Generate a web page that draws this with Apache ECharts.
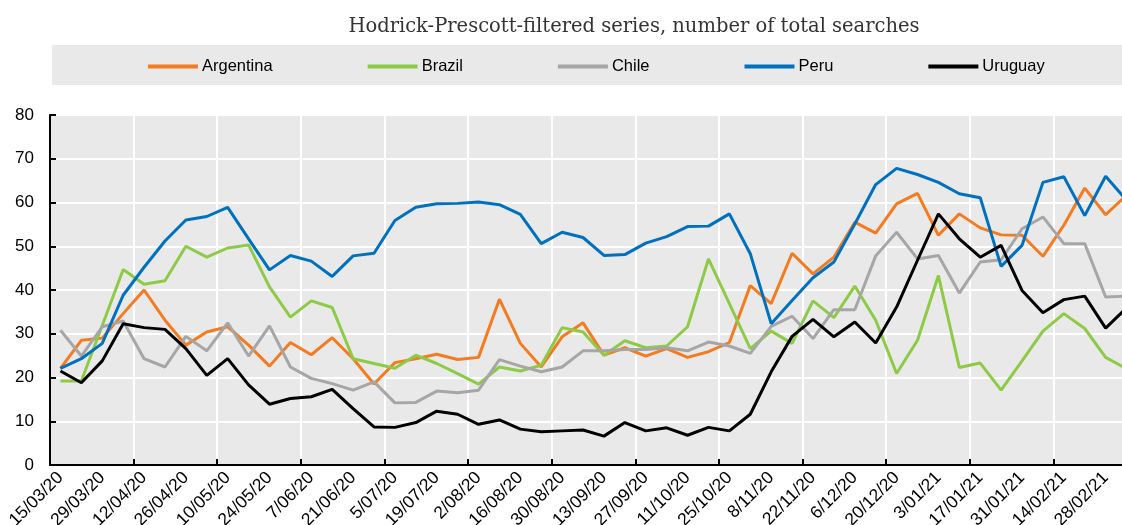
<!DOCTYPE html>
<html>
<head>
<meta charset="utf-8">
<script src="https://cdn.jsdelivr.net/npm/echarts@6/dist/echarts.min.js"></script>
<style>
  html, body { margin: 0; padding: 0; background: #ffffff; overflow: hidden; }
  /* the plot runs on a little past the right edge of the window */
  #chart { width: 1137px; height: 525px; }
</style>
</head>
<body>
<div id="chart"></div>
<script>
// Weekly observations, 15 March 2020 to 7 March 2021
const weeks = [
  '15/03/20', '22/03/20', '29/03/20', '5/04/20', '12/04/20', '19/04/20', '26/04/20', '3/05/20',
  '10/05/20', '17/05/20', '24/05/20', '31/05/20', '7/06/20', '14/06/20', '21/06/20', '28/06/20',
  '5/07/20', '12/07/20', '19/07/20', '26/07/20', '2/08/20', '9/08/20', '16/08/20', '23/08/20',
  '30/08/20', '6/09/20', '13/09/20', '20/09/20', '27/09/20', '4/10/20', '11/10/20', '18/10/20',
  '25/10/20', '1/11/20', '8/11/20', '15/11/20', '22/11/20', '29/11/20', '6/12/20', '13/12/20',
  '20/12/20', '27/12/20', '3/01/21', '10/01/21', '17/01/21', '24/01/21', '31/01/21', '7/02/21',
  '14/02/21', '21/02/21', '28/02/21', '7/03/21'
];

const argentina = [
  22.1, 28.5, 29.0, 34.6, 40.0, 33.1, 27.4, 30.4, 31.6, 27.4, 22.6, 28.0, 25.2, 29.1, 24.3, 18.5,
  23.4, 24.3, 25.3, 24.1, 24.6, 37.9, 27.8, 22.4, 29.3, 32.5, 25.1, 26.8, 24.9, 26.6, 24.6, 25.9,
  28.0, 41.0, 36.9, 48.4, 43.7, 47.5, 55.5, 53.0, 59.7, 62.1, 52.5, 57.4, 54.2, 52.6, 52.5, 47.7,
  54.8, 63.3, 57.2, 61.7
];
const brazil = [
  19.2, 19.2, 31.9, 44.7, 41.3, 42.1, 50.0, 47.5, 49.6, 50.3, 40.7, 33.8, 37.5, 36.0, 24.3, 23.2,
  22.1, 25.1, 23.2, 20.9, 18.5, 22.4, 21.5, 22.8, 31.4, 30.4, 25.1, 28.4, 26.8, 27.2, 31.6, 47.1,
  36.9, 26.6, 30.6, 27.8, 37.5, 33.7, 40.9, 33.1, 20.9, 28.5, 43.3, 22.3, 23.3, 17.1, 23.8, 30.6,
  34.6, 31.2, 24.6, 22.0
];
const chile = [
  30.8, 24.9, 31.6, 32.9, 24.3, 22.4, 29.4, 26.1, 32.5, 24.9, 31.8, 22.4, 19.8, 18.6, 17.1, 19.0,
  14.2, 14.3, 16.9, 16.5, 17.1, 24.1, 22.6, 21.3, 22.4, 26.1, 26.1, 26.4, 26.4, 26.8, 26.1, 28.1,
  27.2, 25.5, 31.7, 34.0, 28.9, 35.5, 35.5, 47.8, 53.2, 47.1, 47.9, 39.3, 46.4, 46.9, 54.0, 56.7,
  50.6, 50.6, 38.4, 38.6
];
const peru = [
  22.1, 24.3, 27.8, 38.8, 45.2, 51.2, 56.0, 56.8, 58.9, 51.7, 44.6, 47.9, 46.6, 43.1, 47.8, 48.4,
  55.9, 58.9, 59.7, 59.8, 60.1, 59.5, 57.3, 50.6, 53.2, 52.0, 47.9, 48.1, 50.7, 52.2, 54.5, 54.6,
  57.4, 48.3, 32.3, 37.6, 42.8, 46.4, 55.1, 64.1, 67.8, 66.4, 64.6, 62.0, 61.1, 45.4, 50.2, 64.6,
  65.9, 57.0, 66.0, 60.5
];
const uruguay = [
  21.5, 18.8, 23.8, 32.3, 31.4, 31.0, 26.6, 20.5, 24.3, 18.3, 13.9, 15.2, 15.6, 17.3, 12.9, 8.7,
  8.6, 9.7, 12.3, 11.6, 9.3, 10.3, 8.2, 7.6, 7.8, 8.0, 6.6, 9.7, 7.8, 8.5, 6.8, 8.6,
  7.8, 11.6, 21.3, 29.4, 33.3, 29.3, 32.7, 27.9, 36.1, 46.8, 57.4, 51.7, 47.5, 50.2, 39.9, 34.8,
  37.8, 38.6, 31.3, 35.9
];

const seriesDefs = [
  { name: 'Argentina', data: argentina, color: '#f47b20' },
  { name: 'Brazil', data: brazil, color: '#8dcb47' },
  { name: 'Chile', data: chile, color: '#a6a6a6' },
  { name: 'Peru', data: peru, color: '#0070c0' },
  { name: 'Uruguay', data: uruguay, color: '#000000' }
];

const chart = echarts.init(document.getElementById('chart'), null, { renderer: 'canvas' });

const panelGrey = '#e9e9e9';
const sans = 'Liberation Sans, Arial, sans-serif';

chart.setOption({
  animation: false,
  backgroundColor: '#ffffff',
  title: {
    text: 'Hodrick-Prescott-filtered series, number of total searches',
    left: 629,
    textAlign: 'center',
    top: 12,
    textStyle: {
      fontFamily: 'DejaVu Serif, serif',
      fontWeight: 'normal',
      fontSize: 19.5,
      color: '#333333'
    }
  },
  graphic: [
    {
      type: 'rect',
      z: -1,
      shape: { x: 52, y: 45, width: 1085, height: 40 },
      style: { fill: panelGrey }
    }
  ],
  legend: {
    left: 143,
    top: 53,
    itemWidth: 50,
    itemHeight: 14,
    itemGap: 95,
    icon: 'path://M0,6 L50,6 L50,10 L0,10 Z',
    textStyle: { fontFamily: sans, fontSize: 16.5, color: '#000000', padding: [0, 0, 0, -1] },
    data: seriesDefs.map(s => s.name)
  },
  grid: {
    left: 50,
    top: 115,
    bottom: 60,
    right: 0,
    outerBoundsMode: 'none',
    show: true,
    backgroundColor: panelGrey,
    borderWidth: 0
  },
  xAxis: {
    type: 'category',
    data: weeks,
    boundaryGap: true,
    axisLine: { lineStyle: { color: '#000000', width: 2 } },
    axisTick: { show: true, inside: true, interval: 3, length: 6, lineStyle: { color: '#000000', width: 2 } },
    splitLine: { show: true, interval: 3, lineStyle: { color: '#ffffff', width: 2 } },
    axisLabel: {
      interval: 1,
      rotate: 45,
      margin: 10,
      fontFamily: sans,
      fontSize: 17.5,
      color: '#000000'
    }
  },
  yAxis: {
    type: 'value',
    min: 0,
    max: 80,
    interval: 10,
    axisLine: { show: true, lineStyle: { color: '#000000', width: 2 } },
    axisTick: { show: true, inside: true, length: 6, lineStyle: { color: '#000000', width: 2 } },
    splitLine: { show: true, lineStyle: { color: '#ffffff', width: 2 } },
    axisLabel: { margin: 16, fontFamily: sans, fontSize: 17, color: '#000000' }
  },
  series: seriesDefs.map(s => ({
    name: s.name,
    type: 'line',
    data: s.data,
    symbol: 'none',
    color: s.color,
    lineStyle: { color: s.color, width: 3 },
    itemStyle: { color: s.color }
  }))
});
</script>
</body>
</html>
